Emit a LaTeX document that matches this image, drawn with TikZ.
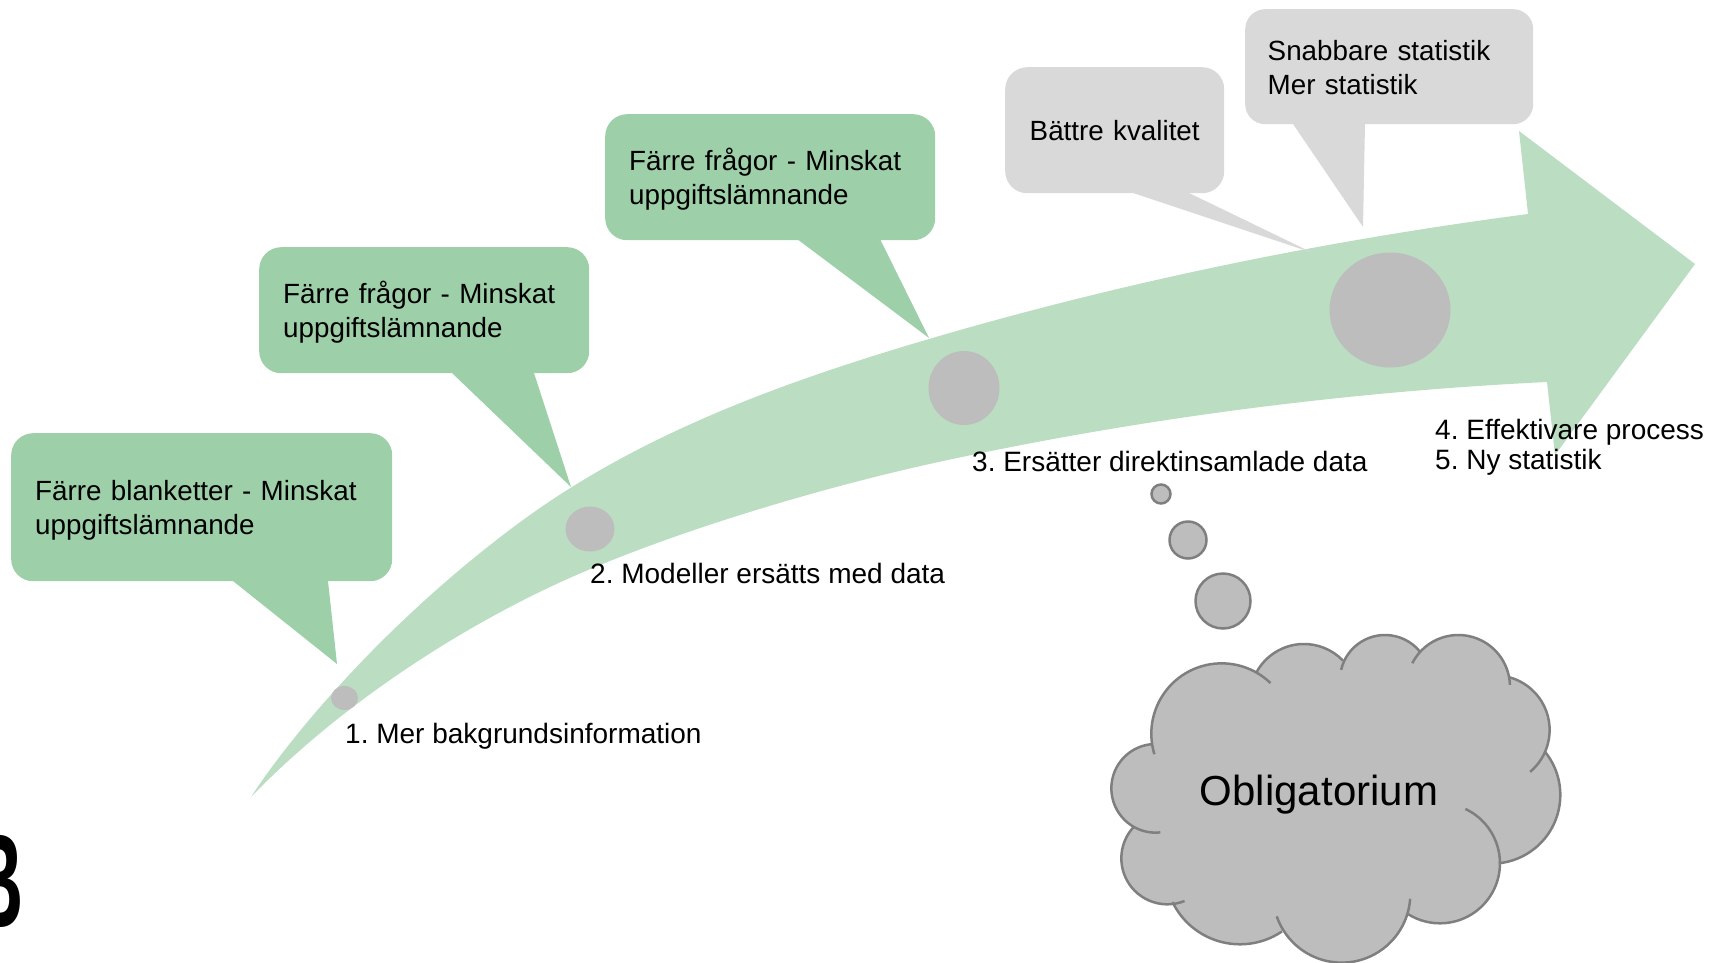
\documentclass[tikz,border=0pt]{standalone}
\usepackage{fontspec}
\setmainfont{Liberation Sans}
\usepackage{tikz}
\usetikzlibrary{shapes,arrows}
\usepackage{xcolor}
\definecolor{arrowgreen}{HTML}{BBDDC2}
\definecolor{boxgreen}{HTML}{9DCFA8}
\definecolor{boxgrey}{HTML}{D9D9D9}
\definecolor{dotgrey}{HTML}{BDBDBD}
\definecolor{cloudline}{HTML}{7F7F7F}
\tikzset{
  greenbox/.style={rectangle, rounded corners=22pt, fill=boxgreen, anchor=north west, inner xsep=24pt, inner ysep=0pt, align=left, text height=26pt, font=\fontsize{27.8}{34}\selectfont},
  greybox/.style={greenbox, fill=boxgrey},
  stopdot/.style={ellipse, fill=dotgrey, inner sep=0pt},
  thoughtdot/.style={circle, fill=dotgrey, draw=cloudline, line width=2.5pt, inner sep=0pt},
  steplabel/.style={anchor=base west, inner sep=0pt, font=\fontsize{28}{30.5}\selectfont},
}
% centre x, centre y, radius, start and end angle of every lobe
\def\cloudlobes{425/401/211/163/314, 672/294/162/208/316, 915/240/135/193/321, 1135/260/155/207/358, 1245/390/164/284/410, 1235/585/206/321/444, 1080/790/180/295/482, 785/882/206/4/161, 480/808/225/56/154, 262/775/138/68/222, 227/565/133/84/264}
\begin{document}
\frenchspacing
\begin{tikzpicture}[x=1pt,y=-1pt]
     \useasboundingbox (0,0) rectangle (1713,963);
     \clip (0,0) rectangle (1713,963);
     % arrow
     \fill [arrowgreen] (251,797) .. controls (300,722) and (400,610) .. (523,520)
        .. controls (645,431) and (790,380) .. (929,339)
        .. controls (1130,280) and (1330,240) .. (1528,214)
        -- (1519,131) -- (1695,264) -- (1555,455) -- (1547,382)
        .. controls (1340,392) and (1130,420) .. (934,463)
        .. controls (820,488) and (660,535) .. (550,587)
        .. controls (440,639) and (330,715) .. (251,797) -- cycle;
     % callouts
     \fill [boxgreen] (233,581) -- (337,664) -- (328,581) -- cycle;
     \node [greenbox, minimum width=381pt, minimum height=148pt, text width=333pt] (blanketter) at (11,433) {Färre blanketter - Minskat\\uppgiftslämnande};
     \fill [boxgreen] (452,373) -- (571,487) -- (534,373) -- cycle;
     \node [greenbox, minimum width=330pt, minimum height=126pt, text width=282pt] (fragorone) at (259,247) {Färre frågor - Minskat\\uppgiftslämnande};
     \fill [boxgreen] (797,239) -- (929,338) -- (880,239) -- cycle;
     \node [greenbox, minimum width=330pt, minimum height=126pt, text width=282pt] (fragortwo) at (605,114) {Färre frågor - Minskat\\uppgiftslämnande};
     \fill [boxgrey] (1133,193) -- (1313,253) -- (1189,193) -- cycle;
     \node [greybox, minimum width=219pt, minimum height=126pt, text width=195pt, inner xsep=12pt, align=center, text height=20pt] (kvalitet) at (1005,67) {Bättre kvalitet};
     \fill [boxgrey] (1293,124) -- (1363,227) -- (1365,124) -- cycle;
     \node [greybox, minimum width=288pt, minimum height=115pt, text width=243pt, inner xsep=22.5pt, rounded corners=20pt, text height=21pt] (snabbare) at (1245,9) {Snabbare statistik\\Mer statistik};
     % stops on the arrow
     \node [stopdot, minimum width=27pt, minimum height=24pt] (stopone) at (344.5,698) {};
     \node [stopdot, minimum width=49pt, minimum height=45pt] (stoptwo) at (590,529) {};
     \node [stopdot, minimum width=71pt, minimum height=74pt] (stopthree) at (964,388) {};
     \node [stopdot, minimum width=121pt, minimum height=115pt] (stopfour) at (1390,310) {};
     % labels
     \node [steplabel] (labelone) at (345,743) {1. Mer bakgrundsinformation};
     \node [steplabel] (labeltwo) at (590,583) {2. Modeller ersätts med data};
     \node [steplabel] (labelthree) at (972,471) {3. Ersätter direktinsamlade data};
     \node [steplabel] (labelfour) at (1435,439) {4. Effektivare process};
     \node [steplabel] (labelfive) at (1435,469) {5. Ny statistik};
     % thought dots
     \node [thoughtdot, minimum size=19pt] (dotone) at (1161,494) {};
     \node [thoughtdot, minimum size=37pt] (dottwo) at (1188,540) {};
     \node [thoughtdot, minimum size=55pt] (dotthree) at (1223,601) {};
     % cloud
     \begin{scope}[shift={(1080,600)},scale=0.3333]
       \fill [dotgrey] (425,401) -- (672,294) -- (915,240) -- (1135,260) -- (1245,390) -- (1235,585) -- (1080,790) -- (785,882) -- (480,808) -- (262,775) -- (227,565) -- cycle;
       \foreach \cx/\cy/\rr/\a/\b in \cloudlobes
         \fill [dotgrey] (\cx,\cy) circle (\rr);
       \foreach \cx/\cy/\rr/\a/\b in \cloudlobes
         \draw [cloudline, line width=2.5pt] ([shift={(\a:\rr)}]\cx,\cy) arc [start angle=\a, end angle=\b, radius=\rr];
     \end{scope}
     \node [anchor=base, inner sep=0pt, font=\fontsize{42}{48}\selectfont] (obligatorium) at (1319,805) {Obligatorium};
     % cut off letter at the left edge
     \node [anchor=base east, inner sep=0pt, font=\fontsize{134}{134}\selectfont\bfseries] (logo) at (24,927) {\scalebox{0.55}[1]{B}};
 \end{tikzpicture}
\end{document}
